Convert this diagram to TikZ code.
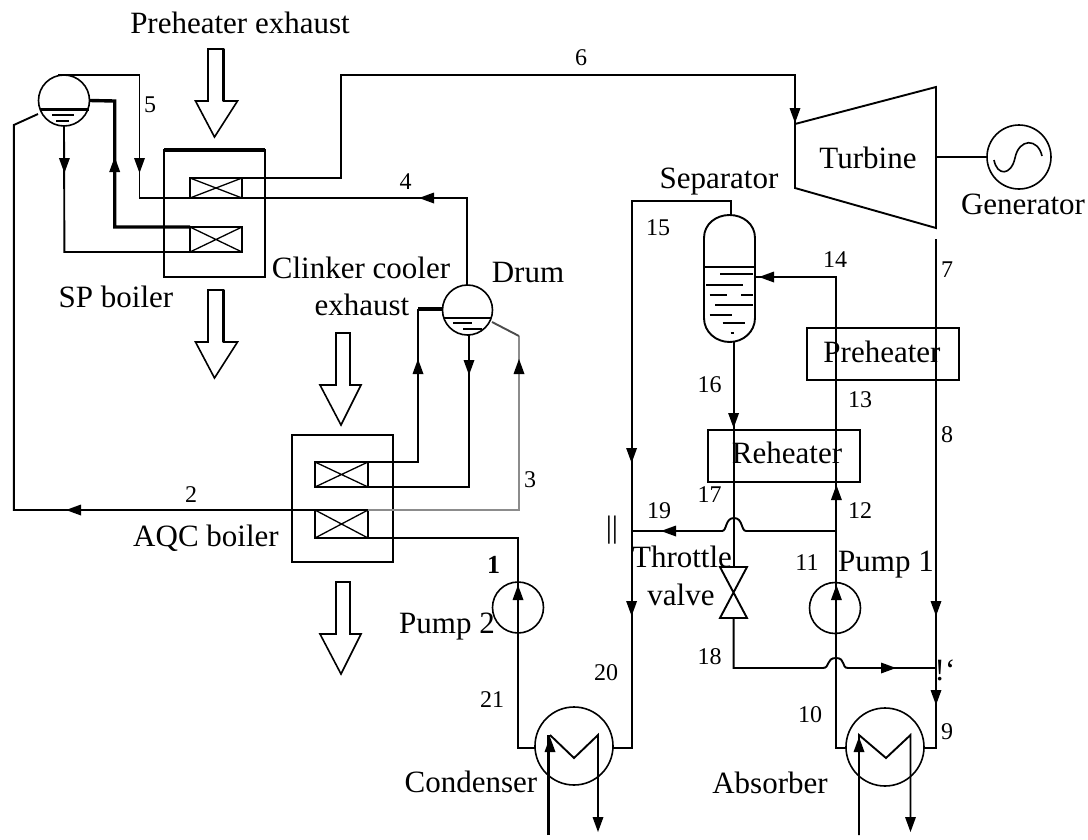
\documentclass[tikz,border=0pt]{standalone}
\usepackage{fontspec}
\setmainfont{Liberation Serif}
\tikzset{
  x=1pt,y=-1pt,
  pipe/.style={line width=1.9pt,line join=miter},
  thick pipe/.style={line width=3.4pt},
  grey pipe/.style={line width=1.9pt,draw=black!45},
  thin mark/.style={line width=1.3pt},
  boxn/.style={draw,line width=1.9pt,rectangle,inner sep=0pt,outer sep=0pt},
  ringn/.style={draw,line width=1.6pt,circle,inner sep=0pt,outer sep=0pt,fill=none},
  lab/.style={font=\fontsize{31}{34}\selectfont,inner sep=0pt},
  num/.style={font=\fontsize{24}{26}\selectfont,inner sep=0pt},
  tipd/.pic={\fill (-5.5,-7) -- (5.5,-7) -- (0,8) -- cycle;},
  tipu/.pic={\fill (-5.5,7) -- (5.5,7) -- (0,-8) -- cycle;},
  tipl/.pic={\fill (7,-5.5) -- (7,5.5) -- (-8,0) -- cycle;},
  tipr/.pic={\fill (-7,-5.5) -- (-7,5.5) -- (8,0) -- cycle;},
  blockarrow/.pic={
    \draw[line width=1.6pt,line join=miter] (-6.5,0) -- (-6.5,52) -- (-19,52) -- (0,88) -- (23,52) -- (9,52) -- (9,0) -- cycle;
    \draw[line width=3pt] (9,0) -- (9,52);},
  blockarrowb/.pic={
    \draw[line width=1.6pt,line join=miter] (-5,0) -- (-5,52) -- (-21,52) -- (0,92) -- (20,52) -- (9,52) -- (9,0) -- cycle;},
}
\begin{document}
\begin{tikzpicture}
\useasboundingbox (0,0) rectangle (1088,839);

% Equipment
\node[ringn,minimum size=51pt] (spdrum) at (64,100.5) {};
\node[ringn,minimum size=50pt] (drum) at (467.5,310) {};
\node[boxn,minimum width=101pt,minimum height=127pt] (spbox) at (214.5,213.5) {};
\node[boxn,minimum width=52pt,minimum height=20pt] (spc1) at (216,188) {};
\node[boxn,minimum width=52pt,minimum height=25pt] (spc2) at (216,239.5) {};
\node[boxn,minimum width=101pt,minimum height=127pt] (aqcbox) at (342.3,498.5) {};
\node[boxn,minimum width=53pt,minimum height=25pt] (aqc1) at (341.5,474.5) {};
\node[boxn,minimum width=53pt,minimum height=28pt] (aqc2) at (341.5,524) {};
\node[boxn,minimum width=152pt,minimum height=52pt] (preheater) at (883,354) {};
\node[boxn,minimum width=152pt,minimum height=52pt] (reheater) at (784,456) {};
\node[ringn,minimum size=51pt] (pump2) at (518,607.5) {};
\node[ringn,minimum size=51pt] (pump1) at (835,608) {};
\node[ringn,minimum size=78pt] (condenser) at (574,746) {};
\node[ringn,minimum size=78pt] (absorber) at (885,747) {};
\node[ringn,minimum size=64pt] (generator) at (1019,157) {};

% Box details
\draw[line width=3.4pt] (spbox.north west) -- (spbox.north east);
\foreach \c in {spc1,spc2,aqc1,aqc2}{
  \draw[thin mark] (\c.north west) -- (\c.south east) (\c.south west) -- (\c.north east);
}
% Drum water
\draw[line width=3pt] (40,109) -- (89,109);
\draw[thin mark] (52,115) -- (74,115) (56,121) -- (69,121);
\draw[pipe] (444,318) -- (491,318);
\draw[thin mark] (453,323) -- (472,323) (463,329) -- (482,329);

% Turbine
\coordinate (tTL) at (795,124);
\coordinate (tTR) at (936,87);
\coordinate (tBR) at (936,228);
\coordinate (tBL) at (795,188);
\draw[pipe,line join=miter] (tTL) -- (tTR) -- (tBR) -- (tBL) -- cycle;
\coordinate (tR) at (936,157);
\draw[pipe] (tR) -- (generator.west);
\draw[line width=1.6pt] (994,160) .. controls (997,176) and (1011,176) .. (1015,158) .. controls (1019,138) and (1038,138) .. (1042,156);

% Separator
\coordinate (sepTop) at (729.6,215);
\coordinate (sepBot) at (732,342);
\draw[line width=1.9pt] (704,238) .. controls (704,224) and (716,215) .. (sepTop) .. controls (743,215) and (755,224) .. (755,238) -- (755,318) .. controls (755,332) and (743,342) .. (729.6,342) .. controls (716,342) and (704,332) .. (704,318) -- cycle;
\draw[pipe] (704,267) -- (755,267);
\draw[pipe] (720,274) -- (753,274) (706,285) -- (743,285) (709.5,295) -- (727,295) (741,295) -- (753,295) (715,305) -- (753,305) (709.5,315) -- (732,315) (722.5,323) -- (745,323) (730.5,333) -- (734,333);

% Throttle valve
\coordinate (vT) at (733.6,567);
\coordinate (vB) at (733.6,618);
\draw[pipe,line join=miter] (720,567) -- (747,567) -- (720,618) -- (747,618) -- cycle;

% Pipes: SP side
\coordinate (a5a) at (139.5,75);
\coordinate (a5b) at (139.5,198);
\coordinate (a4) at (467,198);
\draw[pipe] (58,75) -- (a5a) -- (a5b) -- (a4) -- (drum.north -| a4);
\coordinate (a6a) at (341,178);
\coordinate (a6b) at (341,75);
\coordinate (a6c) at (795,75);
\draw[pipe] (spc1.north east) -- (a6a) -- (a6b) -- (a6c) -- (tTL);
\coordinate (thk) at (114.7,101);
\draw[thick pipe,line join=miter] (spdrum.east) -- (thk) -- (thk |- spc2.north west) -- (spc2.north west);
\coordinate (a64) at (64.4,252);
\draw[pipe] (spdrum.south) -- (a64 |- spc2.south east) -- (spc2.south east);
\coordinate (sL) at (38,114);
\coordinate (l1) at (13.8,125);
\coordinate (l2) at (13.8,510);
\draw[pipe] (sL) -- (l1) -- (l2) -- (aqc2.north west);

% Pipes: AQC side
\coordinate (d1) at (418,309);
\draw[thick pipe] (drum.west |- d1) -- (d1);
\coordinate (d1b) at (418,462);
\draw[pipe] (d1) -- (d1b) -- (aqc1.north east);
\coordinate (d2) at (469,335);
\coordinate (d2b) at (469,487);
\draw[pipe] (d2) -- (d2b) -- (aqc1.south east);
\coordinate (d3) at (492,322);
\coordinate (d3a) at (519,336);
\coordinate (d3b) at (519,510);
\draw[grey pipe] (aqc2.north east) -- (d3b) -- (d3a);
\draw[pipe,draw=black!70] (d3a) -- (d3);
\coordinate (b1) at (518,538);
\coordinate (b2) at (518,748);
\draw[pipe] (aqc2.south east) -- (b1) -- (b2) -- (condenser.west |- b2);

% Pipes: ammonia side
\coordinate (c1) at (631.6,748);
\coordinate (c2) at (631.6,201);
\coordinate (c3) at (731,201);
\draw[pipe] (condenser.east |- c1) -- (c1) -- (c2) -- (c3) -- (c3 |- sepTop);
\coordinate (r16b) at (733.6,430);
\draw[pipe] (sepBot -| r16b) -- (vT);
\coordinate (p1) at (836.4,748);
\coordinate (p2) at (836.4,277);
\coordinate (p3) at (755,277);
\draw[pipe] (absorber.west |- p1) -- (p1) -- (p2) -- (p3);
\coordinate (t1) at (936,239);
\coordinate (t2) at (936,748);
\draw[pipe] (t1) -- (t2) -- (absorber.east |- t2);
% 19 with hop
\coordinate (j19) at (836.4,531);
\coordinate (e19) at (631.6,531);
\draw[pipe] (j19) -- (746,531) .. controls (741,531) and (743,518) .. (734,518) .. controls (725,518) and (727,531) .. (722,531) -- (e19);
% 18 with hop
\coordinate (k18) at (733.6,668);
\coordinate (e18) at (936,668);
\draw[pipe] (vB) -- (k18) -- (823,668) .. controls (830,668) and (826,658) .. (836,658) .. controls (846,658) and (841,668) .. (848,668) -- (e18);

% Condenser coil
\coordinate (cA) at (550,735);
\coordinate (cB) at (574,758);
\coordinate (cC) at (598,735);
\coordinate (cIn) at (548.5,835);
\coordinate (cOut) at (598,825);
\draw[line width=3.4pt] (cIn) -- (cIn |- cA);
\draw[pipe] (cA) -- (cB) -- (cC) -- (cOut);
% Absorber coil
\coordinate (aA) at (859,735);
\coordinate (aB) at (886,758);
\coordinate (aC) at (910.5,735);
\coordinate (aIn) at (859,835);
\coordinate (aOut) at (910.5,825);
\draw[pipe] (aIn) -- (aA) -- (aB) -- (aC) -- (aOut);

% Arrow tips
\foreach \p in {(64.4,165),(139.5,165),(469,367),(795,115),(733.6,420),(631.6,455),(631.6,608),(936,608),(936,697),(598,824),(910.5,824)}{
  \pic at \p {tipd};}
\foreach \p in {(114.7,165),(418,367),(519,367),(518,593),(836.4,493),(836.4,593),(550,745),(859,745)}{
  \pic at \p {tipu};}
\foreach \p in {(427,198),(74,510),(767,277),(669,531)}{
  \pic at \p {tipl};}
\pic at (888,668) {tipr};

% Exhaust arrows
\pic at (214.5,49) {blockarrow};
\pic at (214.5,290) {blockarrow};
\pic at (341,333) {blockarrowb};
\pic at (341,582) {blockarrowb};

% Labels
\node[lab] (l01) at (240,23) {Preheater exhaust};
\node[lab] (l02) at (116,297) {SP boiler};
\node[lab] (l03) at (361,268) {Clinker cooler};
\node[lab] (l04) at (362,305) {exhaust};
\node[lab] (l05) at (528,272) {Drum};
\node[lab] (l06) at (206,538) {AQC boiler};
\node[lab] (l07) at (447,627) {Pump 2};
\node[lab] (l08) at (471,782) {Condenser};
\node[lab] (l09) at (770,783) {Absorber};
\node[lab] (l10) at (868,158) {Turbine};
\node[lab] (l11) at (1023,204) {Generator};
\node[lab] (l12) at (719,182) {Separator};
\node[lab] (l13) at (882,352) {Preheater};
\node[lab] (l14) at (787,453) {Reheater};
\node[lab] (l15) at (682,557) {Throttle};
\node[lab] (l16) at (681,595) {valve};
\node[lab] (l17) at (886,565) {Pump 1};
\node[lab] (l18) at (612,530) {||};
\node[lab] (l19) at (945,670) {!{}`};

\node[num,font=\fontsize{26}{28}\selectfont\bfseries] (n1) at (493.5,565) {1};
\node[num] (n2) at (191,495) {2};
\node[num] (n3) at (530,480) {3};
\node[num] (n4) at (405.6,182) {4};
\node[num] (n5) at (150,105) {5};
\node[num] (n6) at (581,58) {6};
\node[num] (n7) at (947,270) {7};
\node[num] (n8) at (947,435) {8};
\node[num] (n9) at (947,732) {9};
\node[num] (n10) at (810,715) {10};
\node[num] (n11) at (807,563) {11};
\node[num] (n12) at (860,511) {12};
\node[num] (n13) at (860,400) {13};
\node[num] (n14) at (835,260) {14};
\node[num] (n15) at (658,228) {15};
\node[num] (n16) at (709.5,385) {16};
\node[num] (n17) at (709.5,495) {17};
\node[num] (n18) at (709.5,657) {18};
\node[num] (n19) at (659,511) {19};
\node[num] (n20) at (606,673) {20};
\node[num] (n21) at (492,700) {21};
\end{tikzpicture}
\end{document}
